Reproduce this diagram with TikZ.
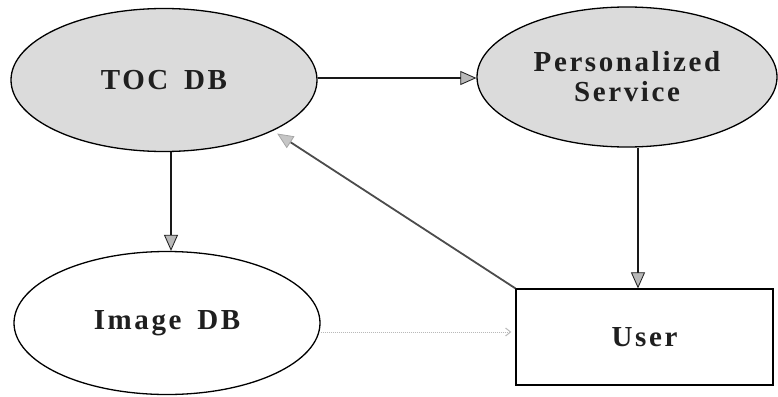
\documentclass[tikz,border=0pt]{standalone}
\usepackage{fontspec}
\newfontfamily\lblfont[LetterSpace=9,WordSpace=1.6]{Liberation Serif}
\usetikzlibrary{shapes.geometric,arrows.meta}
\begin{document}
\begin{tikzpicture}[x=1pt,y=-1pt,
  lbl/.style={font=\lblfont\bfseries\fontsize{29}{34}\selectfont, text=black!88, align=center},
  ell/.style={ellipse, draw=black, line width=1.3pt, inner sep=0pt, minimum width=306pt, minimum height=143pt},
  shaded/.style={fill=gray!28},
  arr/.style={line width=1.8pt, draw=black!90, -{Triangle[length=16pt,width=14pt,fill=gray!55,line width=0.8pt]}},
  garr/.style={line width=1.8pt, draw=black!70, -{Triangle[length=16pt,width=14pt,fill=gray!45,color=gray!70,line width=0.8pt]}},
  darr/.style={line width=1pt, draw=gray!55, densely dotted, -{Straight Barb[length=5pt,width=8pt]}}
]
\useasboundingbox (0,0) rectangle (778,396);
\node[ell, shaded, lbl] (toc) at (164,80) {TOC DB};
\node[ell, shaded, lbl, minimum width=300pt, minimum height=140pt] (pers) at (627,77) {Personalized\\[-4pt]Service};
\node[ell, fill=white, lbl] (img) at (167,323) {Image DB};
\node[draw=black, line width=1.3pt, fill=white, lbl, minimum width=257pt, minimum height=96pt, inner sep=0pt] (user) at (644.5,337) {User};

\draw[arr] (toc.east |- 0,78) -- (pers.west |- 0,78);
\draw[arr] ([xshift=7pt]toc.south) -- ([xshift=7pt]toc.south |- img.north);
\draw[arr] ([xshift=11pt]pers.south) -- ([xshift=11pt]pers.south |- user.north);
\draw[garr, shorten >=5pt] (user.north west) -- (toc.-25);
\draw[darr, shorten >=4pt] ([yshift=-9pt]img.east) -- ([yshift=-9pt]img.east -| user.west);
\end{tikzpicture}
\end{document}
